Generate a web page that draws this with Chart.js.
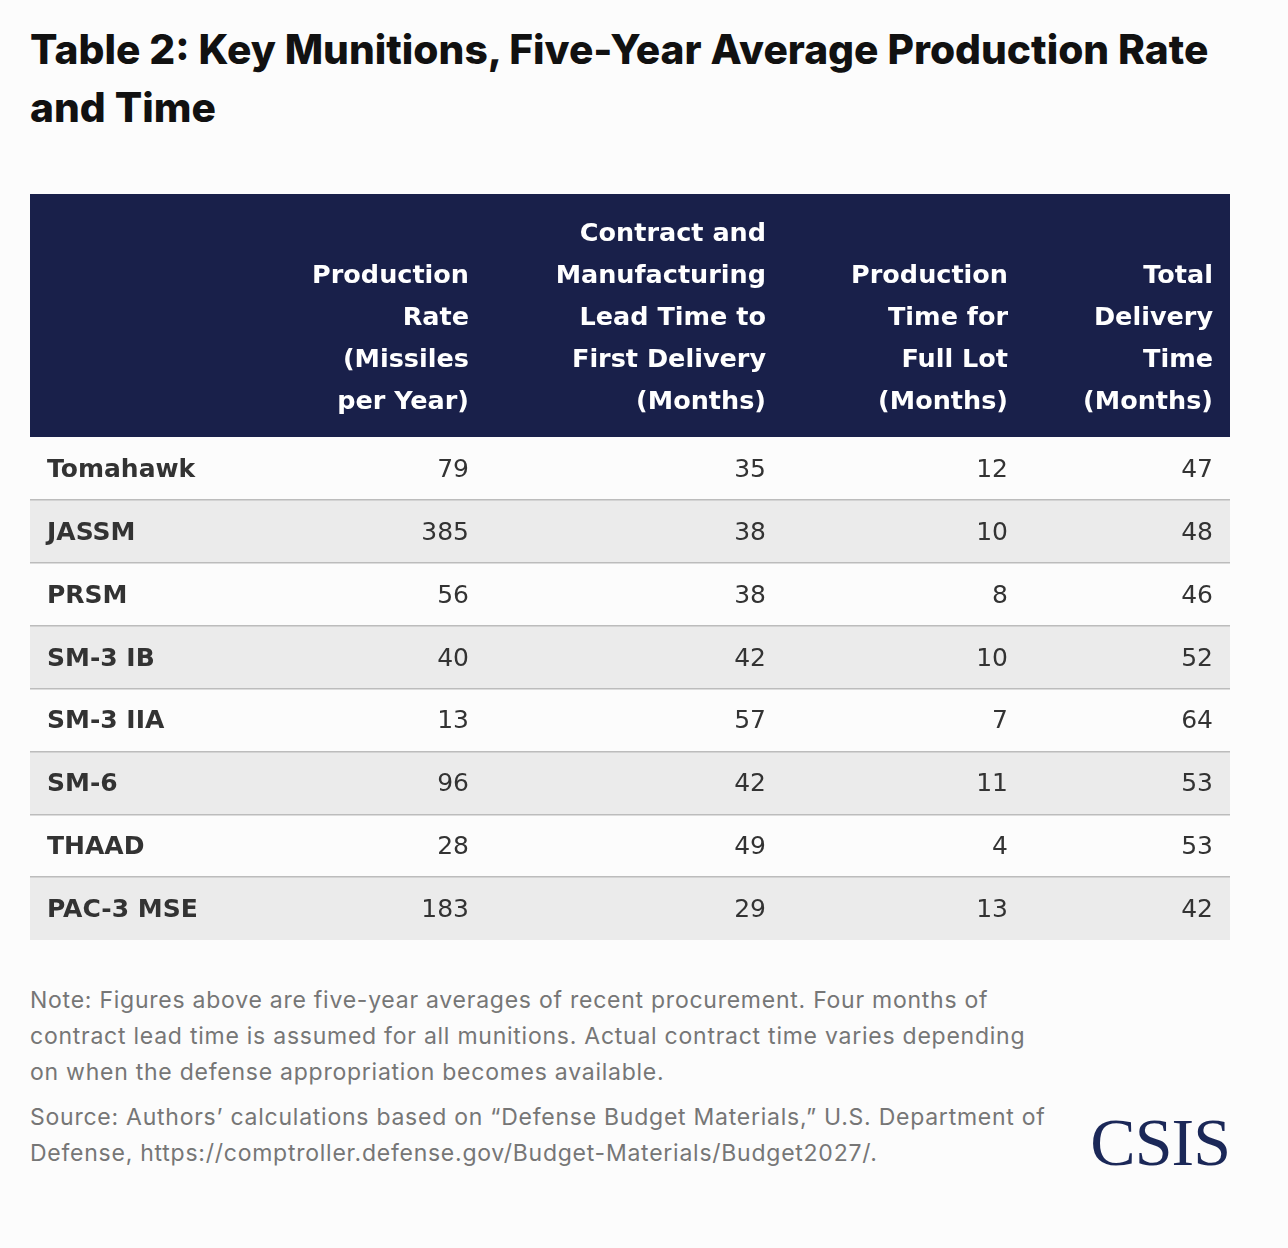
<!DOCTYPE html>
<html>
<head>
<meta charset="utf-8">
<script src="https://cdn.jsdelivr.net/npm/chart.js@4.4.1/dist/chart.umd.min.js"></script>
<style>
    body {
        margin: 0;
        width: 1288px;
        height: 1248px;
        background: #fcfcfc;
        position: relative;
        font-family: Inter, "Noto Sans", sans-serif;
    }
    .title {
        position: absolute;
        left: 30px;
        top: 21px;
        margin: 0;
        font-family: Inter, Roboto, sans-serif;
        font-weight: 800;
        font-size: 40.7px;
        line-height: 58px;
        color: #111;
        white-space: nowrap;
    }
    .table-wrap {
        position: absolute;
        left: 30px;
        top: 194px;
        width: 1200px;
        height: 746px;
    }
    .notes {
        position: absolute;
        left: 30px;
        top: 982px;
        font-size: 23px;
        letter-spacing: 0.75px;
        line-height: 36px;
        color: #767676;
        white-space: nowrap;
    }
    .notes p {
        margin: 0 0 9px 0;
    }
    .logo {
        position: absolute;
        right: 58px;
        top: 1104px;
        font-family: "Liberation Serif", "DejaVu Serif", serif;
        font-size: 68px;
        line-height: 76px;
        color: #1b2858;
        letter-spacing: -1px;
    }
</style>
</head>
<body>
<h1 class="title">Table 2: Key Munitions, Five-Year Average Production Rate<br>and Time</h1>

<div class="table-wrap"><canvas id="munitionsTable"></canvas></div>

<div class="notes">
    <p>Note: Figures above are five-year averages of recent procurement. Four months of<br>contract lead time is assumed for all munitions. Actual contract time varies depending<br>on when the defense appropriation becomes available.</p>
    <p>Source: Authors’ calculations based on “Defense Budget Materials,” U.S. Department of<br>Defense, https://comptroller.defense.gov/Budget-Materials/Budget2027/.</p>
</div>
<div class="logo">CSIS</div>

<script>
// Table data
const munitions = ['Tomahawk', 'JASSM', 'PRSM', 'SM-3 IB', 'SM-3 IIA', 'SM-6', 'THAAD', 'PAC-3 MSE'];
const productionRate = [79, 385, 56, 40, 13, 96, 28, 183];
const leadTime = [35, 38, 38, 42, 57, 42, 49, 29];
const lotTime = [12, 10, 8, 10, 7, 11, 4, 13];
const totalTime = [47, 48, 46, 52, 64, 53, 53, 42];
const columnHeaders = [
    ['Production', 'Rate', '(Missiles', 'per Year)'],
    ['Contract and', 'Manufacturing', 'Lead Time to', 'First Delivery', '(Months)'],
    ['Production', 'Time for', 'Full Lot', '(Months)'],
    ['Total', 'Delivery', 'Time', '(Months)']
];

// layout: right edge of each column on the 0..1200 x scale
const columnEdges = [439, 736, 978, 1183];
const tableWidth = 1200;
const columns = [productionRate, leadTime, lotTime, totalTime];
const tableFont = '"DejaVu Sans", Inter, sans-serif';

// draws the numbers of each cell at the scale positions
const cellText = {
    id: 'cellText',
    afterDatasetsDraw(chart) {
        const ctx = chart.ctx;
        const x = chart.scales.x;
        const y = chart.scales.y;
        ctx.save();
        ctx.font = '400 25px ' + tableFont;
        ctx.fillStyle = '#333333';
        ctx.textAlign = 'right';
        ctx.textBaseline = 'middle';
        columns.forEach((values, c) => {
            values.forEach((v, r) => {
                ctx.fillText(String(v), x.getPixelForValue(columnEdges[c]), y.getPixelForValue(r) + 2);
            });
        });
        ctx.restore();
    }
};

function initTable() {
    const ctx = document.getElementById('munitionsTable').getContext('2d');

    new Chart(ctx, {
        type: 'bar',
        data: {
            labels: munitions,
            datasets: [{
                label: 'stripes',
                data: munitions.map((m, i) => (i % 2 === 1 ? [0, tableWidth] : null)),
                backgroundColor: '#ebebeb',
                borderWidth: 0,
                barPercentage: 1,
                categoryPercentage: 1
            }]
        },
        options: {
            indexAxis: 'y',
            responsive: true,
            maintainAspectRatio: false,
            animation: false,
            layout: { padding: 0 },
            plugins: {
                legend: { display: false },
                tooltip: { enabled: false }
            },
            scales: {
                x: {
                    type: 'linear',
                    position: 'top',
                    min: 0,
                    max: tableWidth,
                    backgroundColor: '#19204a',
                    grid: { display: false, drawTicks: false },
                    border: { display: false },
                    afterBuildTicks: function (scale) {
                        scale.ticks = columnEdges.map(v => ({ value: v }));
                    },
                    afterFit: function (scale) {
                        scale.height = 243;
                        scale.paddingLeft = 0;
                        scale.paddingRight = 0;
                    },
                    ticks: {
                        autoSkip: false,
                        maxRotation: 0,
                        minRotation: 0,
                        align: 'end',
                        padding: 14,
                        color: '#ffffff',
                        font: { family: tableFont, size: 25.5, weight: '700', lineHeight: '42px' },
                        callback: function (value, index) {
                            return columnHeaders[index];
                        }
                    }
                },
                y: {
                    type: 'category',
                    border: { display: false },
                    afterFit: function (scale) {
                        scale.width = 0;
                        scale.paddingTop = 0;
                        scale.paddingBottom = 0;
                    },
                    grid: {
                        z: 1,
                        offset: true,
                        drawTicks: false,
                        lineWidth: 1.5,
                        color: function (context) {
                            // no line above the first row or below the last one
                            if (context.type !== 'tick' || context.index === 0) return 'rgba(0,0,0,0)';
                            return '#bcbcbc';
                        }
                    },
                    ticks: {
                        z: 1,
                        autoSkip: false,
                        mirror: true,
                        padding: 17,
                        labelOffset: 2,
                        color: '#333333',
                        font: { family: tableFont, size: 25, weight: '700' }
                    }
                }
            }
        },
        plugins: [cellText]
    });
}

document.addEventListener('DOMContentLoaded', function () {
    initTable();
});
</script>
</body>
</html>
